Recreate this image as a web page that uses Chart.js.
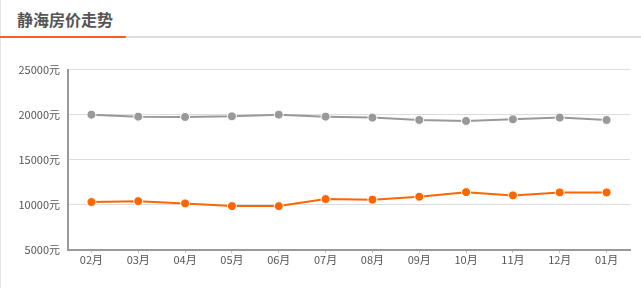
<!DOCTYPE html>
<html>
<head>
<meta charset="utf-8">
<script src="https://cdn.jsdelivr.net/npm/chart.js@4/dist/chart.umd.min.js"></script>
<style>
  html, body { margin: 0; padding: 0; background: #fff; }
  body { width: 641px; height: 288px; position: relative; overflow: hidden;
         font-family: "Noto Sans CJK SC", "Noto Sans", sans-serif; }
  .edge { position: absolute; left: 0; top: 0; width: 1px; height: 288px; background: #e3e3e3; }
  .title { position: absolute; left: 17px; top: 7px; font-size: 16px; font-weight: bold; color: #555; }
  .rule { position: absolute; left: 0; top: 36px; width: 641px; height: 2px; background: #ddd; }
  .rule-on { position: absolute; left: 0; top: 36px; width: 126px; height: 2px; background: #ff5a1f; }
  .wrap { position: absolute; left: 0; top: 55px; width: 641px; height: 233px; }
</style>
</head>
<body>
<div class="edge"></div>
<div class="title">静海房价走势</div>
<div class="rule"></div>
<div class="rule-on"></div>
<div class="wrap"><canvas id="price-chart"></canvas></div>
<script>
'use strict';

const months = ['02月', '03月', '04月', '05月', '06月', '07月', '08月', '09月', '10月', '11月', '12月', '01月'];
const grayPrices = [20000, 19780, 19740, 19810, 20000, 19780, 19670, 19410, 19300, 19480, 19670, 19410];
const orangePrices = [10300, 10400, 10150, 9850, 9850, 10630, 10560, 10890, 11400, 11040, 11370, 11370];
const yTicks = [5000, 10000, 15000, 20000, 25000];

const TextColor = '#555';
const GridColor = '#dcdcdc';
const AxisColor = '#999';

function lineSet(values, color) {
  return {
    data: values,
    borderColor: color,
    backgroundColor: color,
    borderWidth: 2,
    pointRadius: 4.5,
    pointHoverRadius: 4.5,
    pointBorderColor: '#fff',
    pointBorderWidth: 1,
    tension: 0,
  };
}

let data = {
  labels: months,
  datasets: [
    lineSet(grayPrices, '#999'),
    lineSet(orangePrices, '#ff6600'),
  ],
};

let options = {
  responsive: true,
  maintainAspectRatio: false,
  animation: false,
  layout: {
    padding: { top: 8, right: 11, left: 0, bottom: 22 },
  },
  plugins: {
    legend: { display: false },
    tooltip: { enabled: false },
  },
  scales: {
    x: {
      offset: true,
      grid: {
        offset: false,
        drawOnChartArea: false,
        drawTicks: true,
        tickLength: 3,
        tickColor: '#bbb',
      },
      border: { color: AxisColor, width: 2 },
      ticks: {
        color: TextColor,
        padding: 0,
        maxRotation: 0,
        autoSkip: false,
        font: { size: 11, family: 'Noto Sans CJK SC' },
      },
    },
    y: {
      min: yTicks[0],
      max: yTicks[yTicks.length - 1],
      afterBuildTicks: (scale) => {
        scale.ticks = yTicks.map((v) => ({ value: v }));
      },
      afterFit: (scale) => {
        scale.width = 68;
      },
      grid: {
        color: GridColor,
        drawTicks: false,
      },
      border: { color: AxisColor, width: 2 },
      ticks: {
        color: TextColor,
        padding: 8,
        font: { size: 11, family: 'Noto Sans CJK SC' },
        callback: (v) => v + '元',
      },
    },
  },
};

new Chart(document.getElementById('price-chart'), {
  type: 'line',
  data: data,
  options: options,
});
</script>
</body>
</html>
